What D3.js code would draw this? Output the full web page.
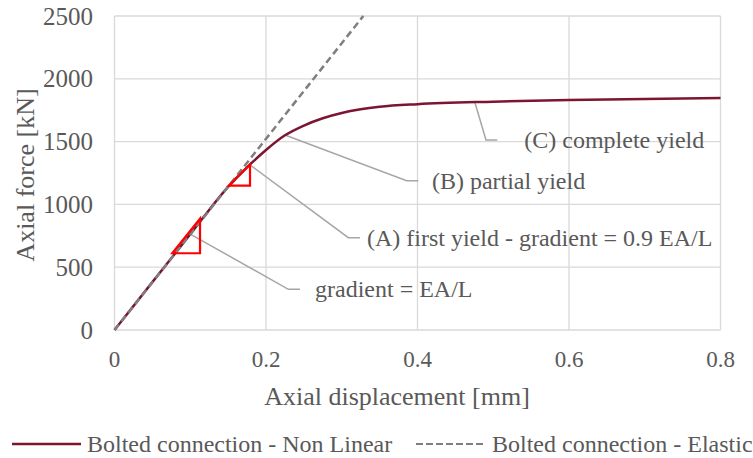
<!DOCTYPE html>
<html>
<head>
<meta charset="utf-8">
<script src="https://cdn.jsdelivr.net/npm/d3@7"></script>
<style>
  body { margin: 0; background: #fff; }
</style>
</head>
<body>
<svg width="753" height="458"></svg>
<script>
// data
const nonLinearX = [0, 0.05, 0.1, 0.15, 0.175, 0.2, 0.225, 0.25, 0.275, 0.3, 0.325, 0.35, 0.4, 0.5, 0.6, 0.7, 0.8];
const nonLinearY = [0, 381, 762, 1140, 1295, 1433, 1550, 1628, 1686, 1728, 1757, 1777, 1798, 1818, 1831, 1840, 1847];
const elasticX = [0, 0.3285];
const elasticY = [0, 2500];

const xTicks = [0, 0.2, 0.4, 0.6, 0.8];
const yTicks = [0, 500, 1000, 1500, 2000, 2500];

// gradient triangles (data units)
const triangles = [
    [[0.0763, 611], [0.1129, 611], [0.1129, 886]],
    [[0.1508, 1149], [0.1789, 1149], [0.1789, 1319]]
];

// callouts: anchor, elbow, end of leader, label
const callouts = [
    { pts: [[0.100, 764], [0.2295, 324], [0.245, 324]], label: "gradient = EA/L", tx: 0.2647 },
    { pts: [[0.179, 1314], [0.3087, 735], [0.324, 735]], label: "(A) first yield - gradient = 0.9 EA/L", tx: 0.3333 },
    { pts: [[0.225, 1553], [0.3857, 1189], [0.401, 1189]], label: "(B) partial yield", tx: 0.419 },
    { pts: [[0.4759, 1810], [0.4904, 1513], [0.5054, 1513]], label: "(C) complete yield", tx: 0.541 }
];

const font = "'Liberation Serif', 'DejaVu Serif', serif";
const textColor = "#595959";

const svg = d3.select("svg")
    .attr("font-family", font);

const x = d3.scaleLinear().domain([0, 0.8]).range([114.5, 720.5]);
const y = d3.scaleLinear().domain([0, 2500]).range([330, 16]);

// grid
svg.append("g")
    .selectAll("line")
    .data(xTicks)
    .enter().append("line")
        .attr("x1", d => x(d)).attr("x2", d => x(d))
        .attr("y1", y(0)).attr("y2", y(2500))
        .attr("stroke", "#d9d9d9").attr("stroke-width", 1.3);

svg.append("g")
    .selectAll("line")
    .data(yTicks)
    .enter().append("line")
        .attr("x1", x(0)).attr("x2", x(0.8))
        .attr("y1", d => y(d)).attr("y2", d => y(d))
        .attr("stroke", "#d9d9d9").attr("stroke-width", 1.3);

// tick labels
svg.append("g")
    .selectAll("text")
    .data(xTicks)
    .enter().append("text")
        .attr("x", d => x(d))
        .attr("y", 367)
        .attr("text-anchor", "middle")
        .attr("font-size", 23)
        .style("font-family", font)
        .attr("fill", textColor)
        .text(d => d === 0 ? "0" : d3.format(".1f")(d));

svg.append("g")
    .selectAll("text")
    .data(yTicks)
    .enter().append("text")
        .attr("x", 93)
        .attr("y", d => y(d))
        .attr("dy", "0.34em")
        .attr("text-anchor", "end")
        .attr("font-size", 25)
        .style("font-family", font)
        .attr("fill", textColor)
        .text(d => d);

// axis titles
svg.append("text")
    .attr("x", 397)
    .attr("y", 405)
    .attr("text-anchor", "middle")
    .attr("font-size", 26)
    .style("font-family", font)
    .attr("fill", textColor)
    .text("Axial displacement [mm]");

svg.append("text")
    .attr("transform", "translate(34,175) rotate(-90)")
    .attr("text-anchor", "middle")
    .attr("font-size", 26)
    .style("font-family", font)
    .attr("fill", textColor)
    .text("Axial force [kN]");

// leader lines + labels
const leader = d3.line().x(d => x(d[0])).y(d => y(d[1]));

svg.append("g")
    .selectAll("path")
    .data(callouts)
    .enter().append("path")
        .attr("d", d => leader(d.pts))
        .attr("fill", "none")
        .attr("stroke", "#a6a6a6")
        .attr("stroke-width", 1.5);

svg.append("g")
    .selectAll("text")
    .data(callouts)
    .enter().append("text")
        .attr("x", d => x(d.tx))
        .attr("y", d => y(d.pts[2][1]))
        .attr("dy", "0.33em")
        .attr("font-size", 24)
        .style("font-family", font)
        .attr("fill", textColor)
        .text(d => d.label);

// series
const lineGen = d3.line().x(d => x(d[0])).y(d => y(d[1]));

svg.append("path")
    .datum(nonLinearX.map((v, i) => [v, nonLinearY[i]]))
    .attr("d", d3.line().x(d => x(d[0])).y(d => y(d[1])).curve(d3.curveMonotoneX))
    .attr("fill", "none")
    .attr("stroke", "#7b1532")
    .attr("stroke-width", 2.5);

svg.append("path")
    .datum(elasticX.map((v, i) => [v, elasticY[i]]))
    .attr("d", lineGen)
    .attr("fill", "none")
    .attr("stroke", "#7f7f7f")
    .attr("stroke-width", 2.5)
    .attr("stroke-dasharray", "7,4");

// red gradient triangles
svg.append("g")
    .selectAll("path")
    .data(triangles)
    .enter().append("path")
        .attr("d", d => lineGen(d) + "Z")
        .attr("fill", "none")
        .attr("stroke", "#ff0000")
        .attr("stroke-width", 2.2);

// legend
const legend = svg.append("g").attr("transform", "translate(0,444)");

legend.append("line")
    .attr("x1", 12).attr("x2", 81)
    .attr("stroke", "#7b1532").attr("stroke-width", 2.5);
legend.append("text")
    .attr("x", 87).attr("dy", "0.33em")
    .attr("font-size", 24)
    .style("font-family", font)
    .attr("fill", textColor)
    .text("Bolted connection - Non Linear");

legend.append("line")
    .attr("x1", 416).attr("x2", 486)
    .attr("stroke", "#7f7f7f").attr("stroke-width", 2)
    .attr("stroke-dasharray", "7,3");
legend.append("text")
    .attr("x", 492).attr("dy", "0.33em")
    .attr("font-size", 24)
    .style("font-family", font)
    .attr("fill", textColor)
    .text("Bolted connection - Elastic");
</script>
</body>
</html>
